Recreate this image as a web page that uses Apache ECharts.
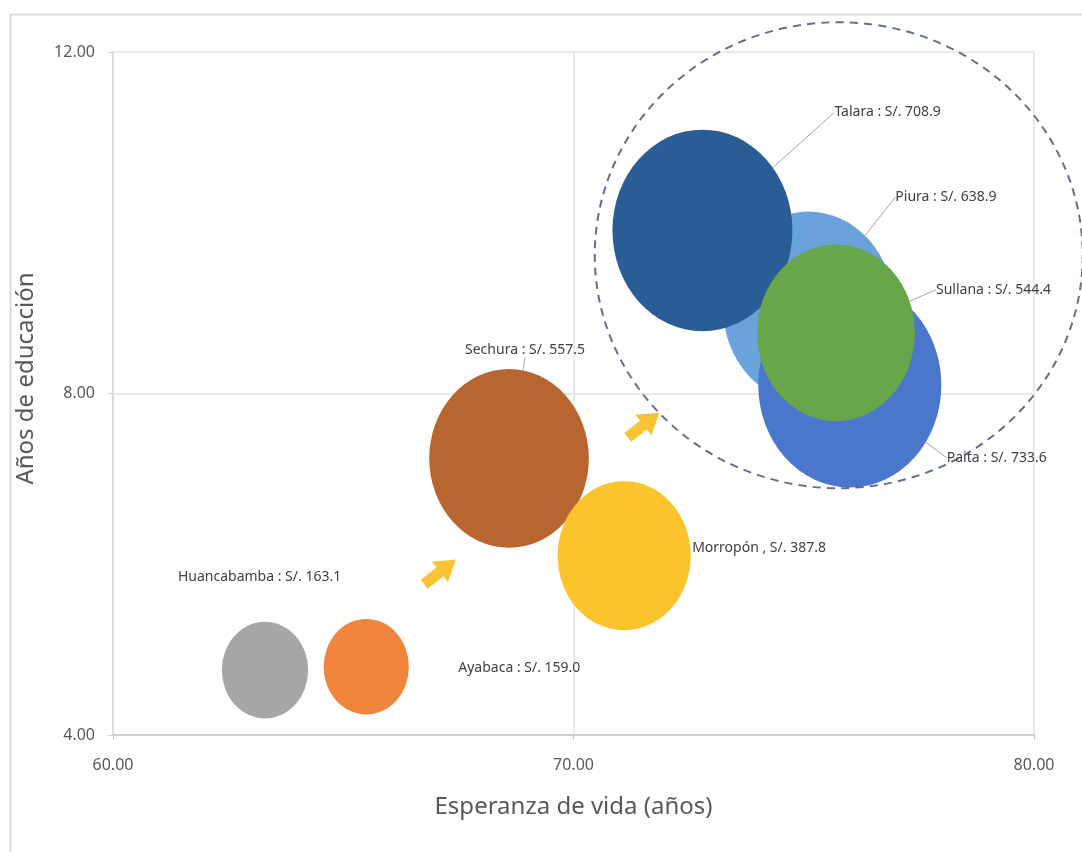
<!DOCTYPE html>
<html>
<head>
<meta charset="utf-8">
<script src="https://cdn.jsdelivr.net/npm/echarts@6/dist/echarts.min.js"></script>
<style>
html,body{margin:0;padding:0;background:#fff;}
#chart{width:1082px;height:852px;}
</style>
</head>
<body>
<div id="chart"></div>
<script>
// ---- data ----
var provinces = ['Huancabamba','Ayabaca','Sechura','Morropón','Piura','Talara','Paita','Sullana'];
var lifeExpectancy = [63.3, 65.5, 68.6, 71.1, 75.1, 72.8, 76.0, 75.7];
var yearsEducation = [4.76, 4.8, 7.24, 6.1, 9.01, 9.91, 8.1, 8.71];
var income = [163.1, 159.0, 557.5, 387.8, 638.9, 708.9, 733.6, 544.4];
var labelSep = [' : ', ' : ', ' : ', ' , ', ' : ', ' : ', ' : ', ' : '];
var xTicks = [60, 70, 80];
var yTicks = [4, 8, 12];
// annotations
var groupCircle = [75.76, 9.62];
var arrowPoints = [[67.1, 5.91], [71.52, 7.63]];

// ---- styles ----
var colors = ['#a6a6a6','#f0853e','#b9652f','#fcc42c','#6aa2dc','#2a5d95','#4a76cc','#68a64a'];
var labelOffsets = [[-87,-93],[92,1],[-44,-108],[68,-8],[87,-110],[132,-118],[97,73],[100,-43]];
var showLine = [false,false,true,false,true,true,true,true];
var K = 6.76, ASPECT = 1.12;

var data = provinces.map(function(p,i){
  return {
    name: p,
    value: [lifeExpectancy[i], yearsEducation[i], income[i]],
    itemStyle: {color: colors[i], opacity: 1},
    labelLine: {show: showLine[i]}
  };
});

var chart = echarts.init(document.getElementById('chart'));
var font = "'Noto Sans', 'Open Sans', sans-serif";
chart.setOption({
  backgroundColor: '#ffffff',
  animation: false,
  graphic: [{
    type: 'rect', left: 8, top: 12, shape: {width: 1200, height: 900},
    style: {fill: 'none', stroke: '#d9d9d9', lineWidth: 2}, z: -1
  }],
  grid: {left: 113, right: 48, top: 52, bottom: 117},
  xAxis: {
    type: 'value', min: 60, max: 80, interval: 10,
    name: 'Esperanza de vida (años)', nameLocation: 'middle', nameGap: 60,
    nameTextStyle: {fontSize: 24, color: '#595959', fontFamily: font},
    axisLine: {show: true, lineStyle: {color: '#c8c8c8', width: 1.5}},
    axisTick: {show: true, length: 5, lineStyle: {color: '#c8c8c8'}},
    splitLine: {show: true, lineStyle: {color: '#e3e3e3', width: 1.5}},
    axisLabel: {fontSize: 16, color: '#595959', fontFamily: font, margin: 22,
      formatter: function(v){ return v.toFixed(2); }}
  },
  yAxis: {
    type: 'value', min: 4, max: 12, interval: 4,
    name: 'Años de educación', nameLocation: 'middle', nameGap: 75, nameRotate: 90,
    nameTextStyle: {fontSize: 24, color: '#595959', fontFamily: font, padding: [0, 0, 0, 30]},
    axisLine: {show: true, lineStyle: {color: '#d5d5d5', width: 1.5}},
    axisTick: {show: true, length: 5, lineStyle: {color: '#d5d5d5'}},
    splitLine: {show: true, lineStyle: {color: '#e3e3e3', width: 1.5}},
    axisLabel: {fontSize: 16, color: '#595959', fontFamily: font, margin: 18,
      formatter: function(v){ return v.toFixed(2); }}
  },
  series: [{
    type: 'scatter',
    data: data,
    symbolSize: function(v){ var w = K*Math.sqrt(v[2]); return [w, w*ASPECT]; },
    label: {
      show: true, position: 'inside', align: 'left', verticalAlign: 'middle',
      color: '#404040', fontSize: 14, fontFamily: font,
      formatter: function(p){ return p.name + labelSep[p.dataIndex] + 'S/. ' + p.value[2].toFixed(1); }
    },
    labelLayout: function(p){
      var o = labelOffsets[p.dataIndex];
      return {dx: o[0], dy: o[1]};
    },
    labelLine: {show: true, lineStyle: {color: '#a6a6a6', width: 1}},
    emphasis: {disabled: true},
    z: 2
  }, {
    type: 'scatter',
    data: [groupCircle],
    symbolSize: [488, 466],
    itemStyle: {color: 'rgba(0,0,0,0)', borderColor: '#3d4c6e', borderWidth: 2, borderType: [8, 6]},
    emphasis: {disabled: true},
    silent: true, clip: false, z: 3
  }, {
    type: 'scatter',
    data: arrowPoints,
    symbol: 'path://M0,4 L10,4 L10,0 L20,7 L10,14 L10,10 L0,10 Z',
    symbolSize: [40, 26],
    symbolRotate: 38,
    itemStyle: {color: '#f7b500'},
    emphasis: {disabled: true},
    silent: true, z: 3
  }]
});
</script>
</body>
</html>
